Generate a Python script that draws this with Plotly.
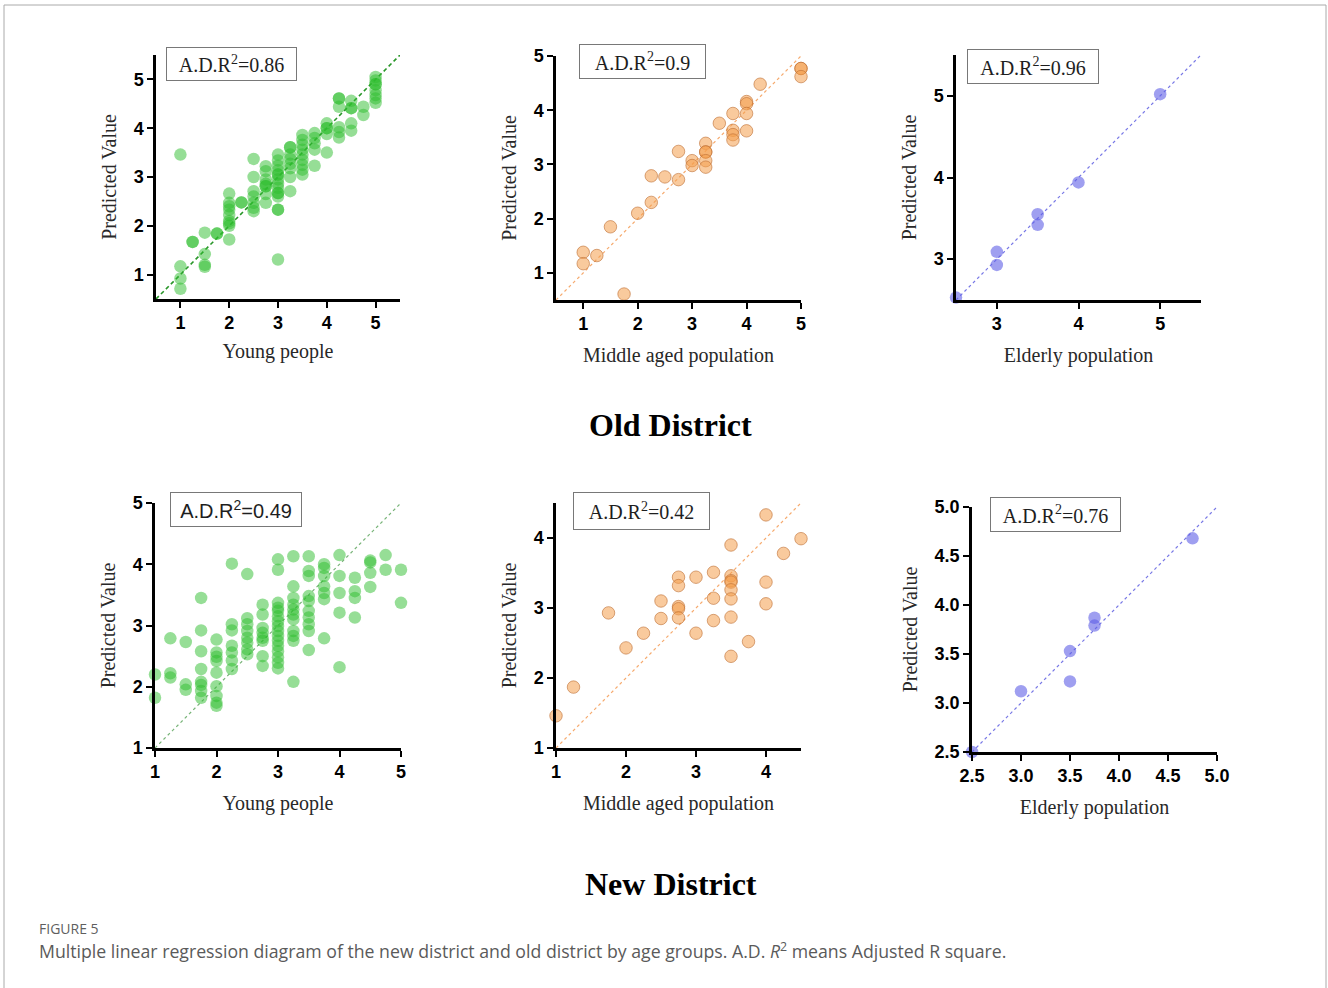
import plotly.graph_objects as go

W, H = 1328, 988

# ---------------- data ----------------
# Old District - Young people
old_young_x = ([1]*4 + [1.25]*2 + [1.5]*4 + [1.75]*2 + [2]*9 + [2.25]*2 + [2.5]*7 + [2.75]*8 +
               [3]*15 + [3.25]*8 + [3.5]*9 + [3.75]*5 + [4]*5 + [4.25]*6 + [4.5]*5 + [4.75]*2 + [5]*8)
old_young_y = ([3.46, 1.17, 0.92, 0.71] +
               [1.67, 1.67] +
               [1.86, 1.42, 1.20, 1.16] +
               [1.84, 1.84] +
               [2.66, 2.47, 2.40, 2.33, 2.22, 2.10, 2.05, 2.00, 1.72] +
               [2.48, 2.48] +
               [3.37, 3.00, 2.71, 2.60, 2.47, 2.37, 2.30] +
               [3.22, 3.12, 2.95, 2.86, 2.81, 2.81, 2.65, 2.47] +
               [3.46, 3.34, 3.23, 3.14, 3.05, 3.05, 2.95, 2.86, 2.78, 2.67, 2.67, 2.60, 2.33, 2.33, 1.31] +
               [3.61, 3.61, 3.46, 3.37, 3.27, 3.18, 3.00, 2.71] +
               [3.86, 3.76, 3.66, 3.56, 3.46, 3.35, 3.25, 3.15, 3.05] +
               [3.90, 3.80, 3.69, 3.56, 3.23] +
               [4.10, 4.00, 4.00, 3.88, 3.50] +
               [4.61, 4.61, 4.44, 4.02, 3.92, 3.81] +
               [4.56, 4.41, 4.41, 4.10, 3.95] +
               [4.44, 4.27] +
               [5.05, 4.98, 4.90, 4.90, 4.78, 4.68, 4.61, 4.52])

# Old District - Middle aged population
old_mid_x = [1, 1, 1.25, 1.5, 1.75, 2, 2.25, 2.25, 2.5, 2.75, 2.75, 3, 3,
             3.25, 3.25, 3.25, 3.25, 3.25, 3.5, 3.75, 3.75, 3.75, 3.75,
             4, 4, 4, 4, 4.25, 5, 5, 5]
old_mid_y = [1.38, 1.17, 1.32, 1.85, 0.61, 2.10, 2.79, 2.30, 2.77, 3.24, 2.72, 3.07, 2.98,
             3.39, 3.23, 3.23, 3.07, 2.95, 3.76, 3.94, 3.63, 3.55, 3.45,
             4.16, 4.12, 3.94, 3.62, 4.48, 4.77, 4.77, 4.62]

# Old District - Elderly population
old_eld_x = [2.5, 3, 3, 3.5, 3.5, 4, 5]
old_eld_y = [2.53, 3.09, 2.93, 3.55, 3.42, 3.94, 5.02]

# New District - Young people
new_young_x = ([1]*2 + [1.25]*3 + [1.5]*3 + [1.75]*8 + [2]*9 + [2.25]*7 + [2.5]*8 + [2.75]*8 +
               [3]*16 + [3.25]*11 + [3.5]*10 + [3.75]*7 + [4]*5 + [4.25]*4 + [4.5]*4 + [4.75]*2 + [5]*2)
new_young_y = ([2.20, 1.82] +
               [2.79, 2.22, 2.15] +
               [2.73, 2.04, 1.95] +
               [3.45, 2.92, 2.58, 2.29, 2.08, 2.03, 1.93, 1.82] +
               [2.77, 2.56, 2.49, 2.42, 2.23, 2.01, 1.85, 1.74, 1.69] +
               [4.01, 3.02, 2.92, 2.67, 2.56, 2.43, 2.29] +
               [3.84, 3.12, 3.02, 2.91, 2.80, 2.72, 2.61, 2.53] +
               [3.34, 3.18, 2.96, 2.88, 2.80, 2.75, 2.50, 2.34] +
               [4.08, 3.91, 3.37, 3.29, 3.24, 3.15, 3.07, 2.99, 2.91, 2.83, 2.75, 2.67, 2.58, 2.48, 2.39, 2.30] +
               [4.13, 3.64, 3.45, 3.34, 3.26, 3.18, 3.10, 2.91, 2.83, 2.75, 2.08] +
               [4.13, 3.89, 3.81, 3.48, 3.40, 3.24, 3.13, 3.02, 2.91, 2.60] +
               [4.00, 3.94, 3.81, 3.64, 3.53, 3.43, 2.79] +
               [4.15, 3.81, 3.53, 3.21, 2.32] +
               [3.78, 3.56, 3.45, 3.13] +
               [4.06, 4.03, 3.86, 3.63] +
               [4.15, 3.91] +
               [3.91, 3.37])

# New District - Middle aged population
new_mid_x = [1, 1.25, 1.75, 2, 2.25, 2.5, 2.5, 2.75, 2.75, 2.75, 2.75, 2.75,
             3, 3, 3.25, 3.25, 3.25, 3.5, 3.5, 3.5, 3.5, 3.5, 3.5, 3.5, 3.5,
             3.75, 4, 4, 4, 4.25, 4.5]
new_mid_y = [1.46, 1.87, 2.93, 2.43, 2.64, 3.10, 2.85, 3.44, 3.32, 3.02, 2.99, 2.86,
             3.44, 2.64, 3.51, 3.14, 2.82, 3.90, 3.46, 3.39, 3.37, 3.26, 3.13, 2.87, 2.31,
             2.52, 4.33, 3.37, 3.06, 3.78, 3.99]

# New District - Elderly population
new_eld_x = [2.5, 3.0, 3.5, 3.5, 3.75, 3.75, 4.75]
new_eld_y = [2.50, 3.12, 3.53, 3.22, 3.79, 3.87, 4.68]

r2_labels = ["A.D.R<sup>2</sup>=0.86", "A.D.R<sup>2</sup>=0.9", "A.D.R<sup>2</sup>=0.96",
             "A.D.R<sup>2</sup>=0.49", "A.D.R<sup>2</sup>=0.42", "A.D.R<sup>2</sup>=0.76"]
x_titles = ["Young people", "Middle aged population", "Elderly population",
            "Young people", "Middle aged population", "Elderly population"]
y_title = "Predicted Value"
group_titles = ["Old District", "New District"]
caption_head = "FIGURE 5"
caption_text = ("Multiple linear regression diagram of the new district and old district by age groups. "
                "A.D. <i>R</i><sup>2</sup> means Adjusted R square.")

# axis ranges / ticks per panel
ranges = [(0.5, 5.5, 0.5, 5.5), (0.5, 5, 0.5, 5), (2.5, 5.5, 2.5, 5.5),
          (1, 5, 1, 5), (1, 4.5, 1, 4.5), (2.5, 5, 2.5, 5)]
xticks = [[1, 2, 3, 4, 5], [1, 2, 3, 4, 5], [3, 4, 5],
          [1, 2, 3, 4, 5], [1, 2, 3, 4], [2.5, 3.0, 3.5, 4.0, 4.5, 5.0]]
yticks = [[1, 2, 3, 4, 5], [1, 2, 3, 4, 5], [3, 4, 5],
          [1, 2, 3, 4, 5], [1, 2, 3, 4], [2.5, 3.0, 3.5, 4.0, 4.5, 5.0]]

# ---------------- layout geometry (pixels) ----------------
panels_px = [(156, 400, 55, 299), (556, 801, 56, 300), (956, 1201, 55, 300),
             (155, 401, 503, 748), (556, 801, 503, 748), (972, 1217, 507, 752)]
boxes_px = [(166, 47, 131, 34), (579, 44, 127, 35), (967, 49, 132, 35),
            (170, 492, 132, 35), (573, 492, 137, 38), (990, 497, 131, 35)]
xtitle_standoff = [12, 15, 15, 15, 15, 15]

def px(x):
    return x / W

def py(y):
    return 1 - y / H

GREEN = "rgba(45,190,45,0.50)"
ORANGE = "rgba(244,158,76,0.55)"
BLUE = "rgba(95,95,230,0.60)"

series = [
    (old_young_x, old_young_y, GREEN, "rgba(0,0,0,0)", "rgb(40,150,40)", "4px,3px", 1.6),
    (old_mid_x, old_mid_y, ORANGE, "rgba(190,110,50,0.6)", "rgb(246,170,110)", "dot", 1.2),
    (old_eld_x, old_eld_y, BLUE, "rgba(0,0,0,0)", "rgb(120,120,230)", "dot", 1.2),
    (new_young_x, new_young_y, GREEN, "rgba(0,0,0,0)", "rgb(120,180,120)", "dot", 1.2),
    (new_mid_x, new_mid_y, ORANGE, "rgba(190,110,50,0.6)", "rgb(246,170,110)", "dot", 1.2),
    (new_eld_x, new_eld_y, BLUE, "rgba(0,0,0,0)", "rgb(120,120,230)", "dot", 1.2),
]

fig = go.Figure()
layout = dict(width=W, height=H, margin=dict(l=0, r=0, t=0, b=0, autoexpand=False),
              paper_bgcolor="white", plot_bgcolor="white", showlegend=False)

tick_font = dict(family="Liberation Sans", size=18, color="black", weight="bold")
title_font = dict(family="Liberation Serif", size=20, color="rgb(40,40,40)")

annotations = []
for i, (sx, sy, col, lcol, refcol, dash, lw) in enumerate(series):
    n = "" if i == 0 else str(i + 1)
    xa, ya = "x" + n, "y" + n
    x0, x1, y0, y1 = ranges[i]
    # identity reference line spanning the axis range
    fig.add_trace(go.Scatter(x=[x0, x1], y=[y0, y1], mode="lines", xaxis=xa, yaxis=ya,
                             line=dict(color=refcol, width=lw, dash=dash), hoverinfo="skip"))
    fig.add_trace(go.Scatter(x=sx, y=sy, mode="markers", xaxis=xa, yaxis=ya, cliponaxis=False,
                             marker=dict(size=12.5, color=col, line=dict(color=lcol, width=1))))
    L, R, T, B = panels_px[i]
    fmt = ".1f" if i == 5 else "d"
    common = dict(showgrid=False, zeroline=False, showline=True, linecolor="black", linewidth=2.5,
                  ticks="outside", ticklen=6, tickwidth=2, tickcolor="black",
                  tickfont=tick_font, tickformat=fmt, automargin=False)
    layout["xaxis" + n] = dict(common, domain=[px(L), px(R)], range=[x0, x1], tickvals=xticks[i],
                               anchor=ya, title=dict(text=x_titles[i], font=title_font,
                                                     standoff=xtitle_standoff[i]))
    layout["yaxis" + n] = dict(common, domain=[py(B), py(T)], range=[y0, y1], tickvals=yticks[i],
                               anchor=xa, title=dict(text=y_title, font=title_font, standoff=12))
    bx, by, bw, bh = boxes_px[i]
    fam = "Liberation Sans" if i == 3 else "Liberation Serif"
    annotations.append(dict(xref="paper", yref="paper", x=px(bx), y=py(by), xanchor="left",
                            yanchor="top", text=r2_labels[i], showarrow=False,
                            font=dict(family=fam, size=20, color="rgb(30,30,30)"),
                            bordercolor="rgb(120,120,120)", borderwidth=1, borderpad=4,
                            width=bw - 10, height=bh - 10, align="center", valign="middle"))

for gy, gt in zip([425, 884], group_titles):
    annotations.append(dict(xref="paper", yref="paper", x=px(671), y=py(gy), xanchor="center",
                            yanchor="middle", text="<b>" + gt + "</b>", showarrow=False,
                            font=dict(family="Liberation Serif", size=32, color="black")))
annotations.append(dict(xref="paper", yref="paper", x=px(37), y=py(928), xanchor="left", yanchor="middle",
                        text=caption_head, showarrow=False,
                        font=dict(family="Open Sans", size=14, color="rgb(95,95,95)")))
annotations.append(dict(xref="paper", yref="paper", x=px(37), y=py(950), xanchor="left", yanchor="middle",
                        text=caption_text, showarrow=False,
                        font=dict(family="Open Sans", size=17.7, color="rgb(90,90,90)")))

layout["annotations"] = annotations
layout["shapes"] = [dict(type="rect", xref="paper", yref="paper", x0=px(4), x1=px(1326), y0=py(1000), y1=py(5),
                         line=dict(color="rgb(170,170,170)", width=1))]
fig.update_layout(**layout)
fig.write_html("out.html", config={"displayModeBar": False},
               post_script="document.body.style.margin='0';document.body.style.overflow='hidden';")
